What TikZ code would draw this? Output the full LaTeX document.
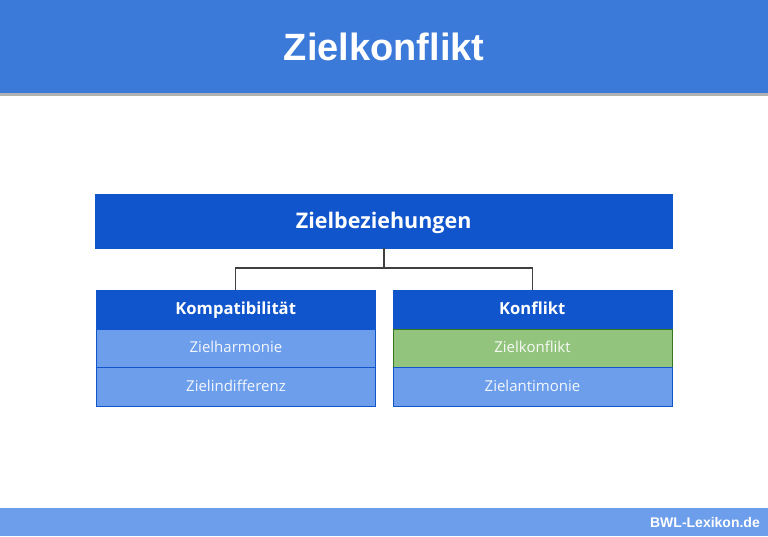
\documentclass[tikz,border=0pt]{standalone}
\usepackage{fontspec}
\setmainfont{Liberation Sans}
\newfontfamily\rob{Open Sans}
\definecolor{hdr}{HTML}{3C7ADA}
\definecolor{dblue}{HTML}{1155CC}
\definecolor{lblue}{HTML}{6D9EEB}
\definecolor{lgreen}{HTML}{93C47D}
\definecolor{dgreen}{HTML}{38761D}
\definecolor{foot}{HTML}{6D9EEB}
\begin{document}
\begin{tikzpicture}[x=1pt,y=-1pt,
  topbox/.style={draw=dblue,fill=dblue,text=white,font=\rob\bfseries\fontsize{21.5}{24}\selectfont,minimum width=577pt,minimum height=54pt,inner sep=0pt,anchor=north west,text height=15pt,text depth=1pt},
  headbox/.style={draw=dblue,fill=dblue,text=white,font=\rob\bfseries\fontsize{16.6}{20}\selectfont,minimum width=279pt,minimum height=39pt,inner sep=0pt,anchor=north west,text height=12pt,text depth=1.5pt},
  rowbox/.style={draw=dblue,fill=lblue,line width=1pt,text=white!92!lblue,font=\rob\fontsize{15}{18}\selectfont,minimum width=279pt,minimum height=38.5pt,inner sep=0pt,anchor=north west,text height=11pt,text depth=2pt},
  greenbox/.style={rowbox,draw=dgreen,fill=lgreen,text=white!92!lgreen},
  conn/.style={draw=black!75,line width=1.2pt}]
\useasboundingbox (0,0) rectangle (768,536);
\fill[white] (0,0) rectangle (768,536);
% header
\fill[black!30] (0,93) rectangle (768,96);
\node[fill=hdr,minimum width=768pt,minimum height=93pt,inner sep=0pt,anchor=north west,text=white,font=\bfseries\fontsize{38}{40}\selectfont] (title) at (0,0) {Zielkonflikt};
% footer
\fill[foot] (0,508) rectangle (768,536);
\node[anchor=east,text=white,font=\bfseries\fontsize{14}{16}\selectfont,inner sep=0pt] (footer) at (760,522) {BWL-Lexikon.de};
% top box
\node[topbox] (zb) at (95,194) {Zielbeziehungen};
% left group
\node[headbox] (komp) at (96,289.5) {Kompatibilität};
\node[rowbox] (zh) at (96,328.5) {Zielharmonie};
\node[rowbox] (zi) at (96,367) {Zielindifferenz};
% right group
\node[headbox] (konf) at (392.5,289.5) {Konflikt};
\node[greenbox] (zk) at (392.5,328.5) {Zielkonflikt};
\node[rowbox] (za) at (392.5,367) {Zielantimonie};
% connectors
\coordinate (j) at (384,268);
\draw[conn] (zb.south -| j) -- (j);
\draw[conn] (komp.north) |- (j) -| (konf.north);
\end{tikzpicture}
\end{document}
